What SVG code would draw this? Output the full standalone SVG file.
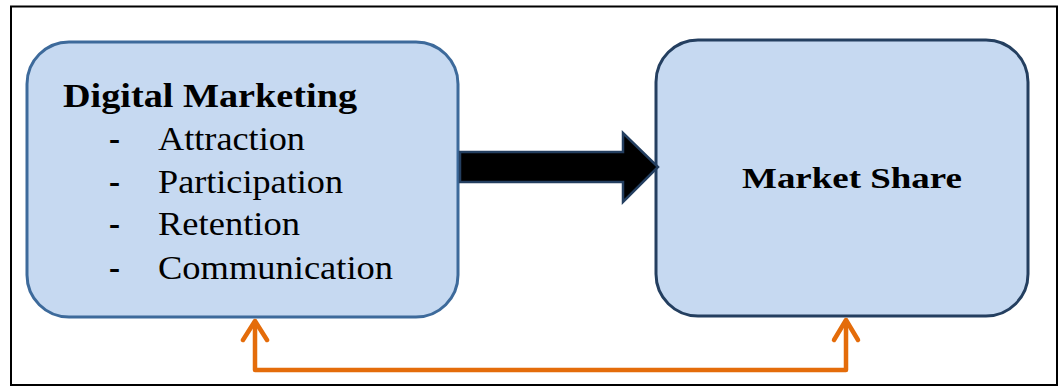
<svg xmlns="http://www.w3.org/2000/svg" width="1062" height="387" viewBox="0 0 1062 387">
<style>
.box{fill:#c6d9f1;stroke-width:3}
.bold{font-family:"Liberation Serif",serif;font-weight:bold;fill:#000}
.reg{font-family:"Liberation Serif",serif;fill:#000}
.dash{font-weight:bold}
.orange{fill:none;stroke:#e46c0a;stroke-width:4.5;stroke-linecap:round;stroke-linejoin:round}
</style>
<rect x="11" y="6.5" width="1046" height="378.5" fill="#fff" stroke="#000" stroke-width="2"/>
<g id="node-digital-marketing">
<rect class="box" x="27" y="42" width="431" height="275" rx="42" ry="42" stroke="#3d6a9b"/>
<text class="bold" x="63" y="107" font-size="33" textLength="294" lengthAdjust="spacingAndGlyphs">Digital Marketing</text>
<g class="reg" font-size="33">
<text class="dash" x="109" y="150">-</text>
<text x="158" y="150" textLength="147" lengthAdjust="spacingAndGlyphs">Attraction</text>
<text class="dash" x="109" y="193">-</text>
<text x="158" y="193" textLength="185" lengthAdjust="spacingAndGlyphs">Participation</text>
<text class="dash" x="109" y="235">-</text>
<text x="158" y="235" textLength="142" lengthAdjust="spacingAndGlyphs">Retention</text>
<text class="dash" x="109" y="279">-</text>
<text x="158" y="279" textLength="235" lengthAdjust="spacingAndGlyphs">Communication</text>
</g>
</g>
<g id="node-market-share">
<rect class="box" x="656" y="40" width="372" height="276" rx="42" ry="42" stroke="#243f60"/>
<text class="bold" x="742" y="188" font-size="30" textLength="220" lengthAdjust="spacingAndGlyphs">Market Share</text>
</g>
<g id="connectors">
<polygon points="460,152 623,152 623,133 658,167 623,202 623,182 460,182" fill="#000" stroke="#243f60" stroke-width="2.5" stroke-linejoin="miter"/>
<polyline class="orange" points="255,322 255,370 846,370 846,321"/>
<polyline class="orange" points="243,340 255,321 267,340"/>
<polyline class="orange" points="834,340 846,320 858,340"/>
</g>
</svg>
